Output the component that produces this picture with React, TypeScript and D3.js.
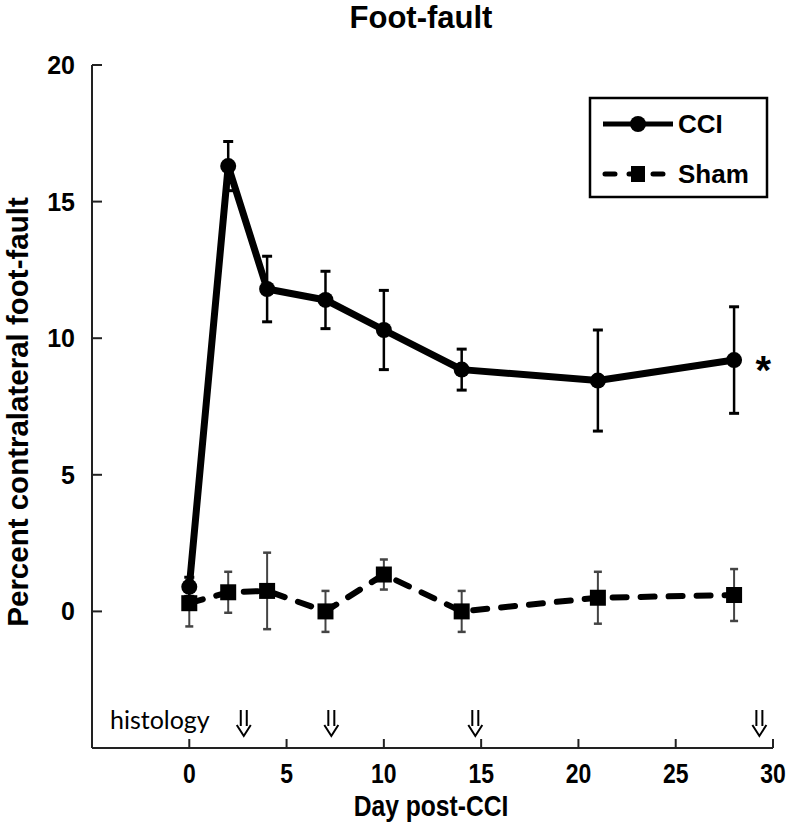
import {useEffect, useRef} from "react";
import * as d3 from "d3";

const days = [0, 2, 4, 7, 10, 14, 21, 28];
const cciMean = [0.9, 16.3, 11.8, 11.4, 10.3, 8.85, 8.45, 9.2];
const cciErr = [0.35, 0.9, 1.2, 1.05, 1.45, 0.75, 1.85, 1.95];
const shamMean = [0.3, 0.7, 0.75, 0.0, 1.35, 0.0, 0.5, 0.6];
const shamErr = [0.85, 0.75, 1.4, 0.75, 0.55, 0.75, 0.95, 0.95];
const histologyDays = [2.8, 7.3, 14.7, 29.3];
const xTicks = [0, 5, 10, 15, 20, 25, 30];
const yTicks = [0, 5, 10, 15, 20];

const W = 792;
const H = 833;

const App = () => {
	const svgRef = useRef<SVGSVGElement>(null);

	useEffect(() => {
		const svg = d3.select(svgRef.current);
		svg.selectAll("*").remove();

		const x = d3.scaleLinear().domain([-5, 30]).range([92, 773]);
		const y = d3.scaleLinear().domain([-5, 20]).range([748, 65]);
		const bold = "'Liberation Sans', Arial, sans-serif";

		// title
		svg.append("text")
			.attr("x", 421)
			.attr("y", 28)
			.attr("text-anchor", "middle")
			.attr("font-family", bold)
			.attr("font-weight", "bold")
			.attr("font-size", 31)
			.text("Foot-fault");

		// y axis
		const yAxis = svg.append("g").attr("transform", `translate(${x(-5)},0)`);
		yAxis.append("line")
			.attr("y1", y(20))
			.attr("y2", y(-5))
			.attr("stroke", "#222")
			.attr("stroke-width", 2);
		yTicks.forEach((t) => {
			yAxis.append("line")
				.attr("x1", 0)
				.attr("x2", 10)
				.attr("y1", y(t))
				.attr("y2", y(t))
				.attr("stroke", "#222")
				.attr("stroke-width", 2);
			yAxis.append("text")
				.attr("x", -17)
				.attr("y", y(t) + 9)
				.attr("text-anchor", "end")
				.attr("font-family", bold)
				.attr("font-weight", "bold")
				.attr("font-size", 25)
				.text(t);
		});
		svg.append("text")
			.attr("transform", `translate(28,${y(7.3)}) rotate(-90)`)
			.attr("text-anchor", "middle")
			.attr("font-family", bold)
			.attr("font-weight", "bold")
			.attr("font-size", 29.5)
			.text("Percent contralateral foot-fault");

		// x axis
		const xAxis = svg.append("g").attr("transform", `translate(0,${y(-5)})`);
		xAxis.append("line")
			.attr("x1", x(-5))
			.attr("x2", x(30))
			.attr("stroke", "#222")
			.attr("stroke-width", 2);
		xTicks.forEach((t) => {
			xAxis.append("line")
				.attr("x1", x(t))
				.attr("x2", x(t))
				.attr("y1", 0)
				.attr("y2", -9)
				.attr("stroke", "#222")
				.attr("stroke-width", 2);
			xAxis.append("text")
				.attr("transform", `translate(${x(t)},35) scale(0.82,1)`)
				.attr("text-anchor", "middle")
				.attr("font-family", bold)
				.attr("font-weight", "bold")
				.attr("font-size", 28)
				.text(t);
		});
		svg.append("text")
			.attr("transform", `translate(431,816) scale(0.85,1)`)
			.attr("text-anchor", "middle")
			.attr("font-family", bold)
			.attr("font-weight", "bold")
			.attr("font-size", 29)
			.text("Day post-CCI");

		// histology markers
		svg.append("text")
			.attr("x", 110)
			.attr("y", 729)
			.attr("font-family", "Lato, 'Open Sans', sans-serif")
			.attr("font-size", 25)
			.text("histology");
		histologyDays.forEach((d) => {
			const cx = x(d);
			const top = 710;
			svg.append("path")
				.attr("d", `M${cx - 3},${top}V${top + 16}M${cx + 3},${top}V${top + 16}M${cx - 7},${top + 15}L${cx},${top + 26}L${cx + 7},${top + 15}`)
				.attr("fill", "none")
				.attr("stroke", "#000")
				.attr("stroke-width", 2);
		});

		const line = d3.line<number>()
			.x((_, i) => x(days[i]))
			.y((v) => y(v));

		// sham error bars
		days.forEach((d, i) => {
			const g = svg.append("g").attr("stroke", "#444").attr("stroke-width", 2);
			g.append("line")
				.attr("x1", x(d)).attr("x2", x(d))
				.attr("y1", y(shamMean[i] + shamErr[i]))
				.attr("y2", y(shamMean[i] - shamErr[i]));
			[shamMean[i] + shamErr[i], shamMean[i] - shamErr[i]].forEach((v) => {
				g.append("line")
					.attr("x1", x(d) - 4).attr("x2", x(d) + 4)
					.attr("y1", y(v)).attr("y2", y(v))
					.attr("stroke-width", 2.5);
			});
		});

		// sham line
		svg.append("path")
			.attr("d", line(shamMean))
			.attr("fill", "none")
			.attr("stroke", "#000")
			.attr("stroke-width", 6)
			.attr("stroke-linecap", "round")
			.attr("stroke-dasharray", "14,14");
		svg.selectAll(".sham")
			.data(shamMean)
			.enter()
			.append("rect")
			.attr("x", (_, i) => x(days[i]) - 8)
			.attr("y", (v) => y(v) - 8)
			.attr("width", 16)
			.attr("height", 16)
			.attr("fill", "#000");

		// cci error bars
		days.forEach((d, i) => {
			const g = svg.append("g").attr("stroke", "#000").attr("stroke-width", 2.5);
			g.append("line")
				.attr("x1", x(d)).attr("x2", x(d))
				.attr("y1", y(cciMean[i] + cciErr[i]))
				.attr("y2", y(cciMean[i] - cciErr[i]));
			[cciMean[i] + cciErr[i], cciMean[i] - cciErr[i]].forEach((v) => {
				g.append("line")
					.attr("x1", x(d) - 5).attr("x2", x(d) + 5)
					.attr("y1", y(v)).attr("y2", y(v))
					.attr("stroke-width", 3);
			});
		});

		// cci line
		svg.append("path")
			.attr("d", line(cciMean))
			.attr("fill", "none")
			.attr("stroke", "#000")
			.attr("stroke-width", 7)
			.attr("stroke-linejoin", "round");
		svg.selectAll(".cci")
			.data(cciMean)
			.enter()
			.append("circle")
			.attr("cx", (_, i) => x(days[i]))
			.attr("cy", (v) => y(v))
			.attr("r", 8)
			.attr("fill", "#000");

		svg.append("text")
			.attr("x", x(29.1))
			.attr("y", y(cciMean[7]) + 24)
			.attr("font-family", bold)
			.attr("font-weight", "bold")
			.attr("font-size", 40)
			.text("*");

		// legend
		const lg = svg.append("g");
		lg.append("rect")
			.attr("x", 590)
			.attr("y", 98)
			.attr("width", 177)
			.attr("height", 99)
			.attr("fill", "#fff")
			.attr("stroke", "#000")
			.attr("stroke-width", 2.5);
		lg.append("line")
			.attr("x1", 603).attr("x2", 673)
			.attr("y1", 124).attr("y2", 124)
			.attr("stroke", "#000")
			.attr("stroke-width", 5);
		lg.append("circle").attr("cx", 638).attr("cy", 124).attr("r", 8).attr("fill", "#000");
		lg.append("text")
			.attr("x", 678).attr("y", 133)
			.attr("font-family", bold)
			.attr("font-weight", "bold")
			.attr("font-size", 26)
			.text("CCI");
		lg.append("line")
			.attr("x1", 605).attr("x2", 673)
			.attr("y1", 174).attr("y2", 174)
			.attr("stroke", "#000")
			.attr("stroke-width", 5)
			.attr("stroke-linecap", "round")
			.attr("stroke-dasharray", "10,14");
		lg.append("rect").attr("x", 631).attr("y", 166).attr("width", 14).attr("height", 16).attr("fill", "#000");
		lg.append("text")
			.attr("x", 678).attr("y", 183)
			.attr("font-family", bold)
			.attr("font-weight", "bold")
			.attr("font-size", 26)
			.text("Sham");
	}, []);

	return (
		<svg
			ref={svgRef}
			width={W}
			height={H}
			style={{position: "absolute", left: 0, top: 0, background: "#fff"}}
		></svg>
	);
};

export default App;
